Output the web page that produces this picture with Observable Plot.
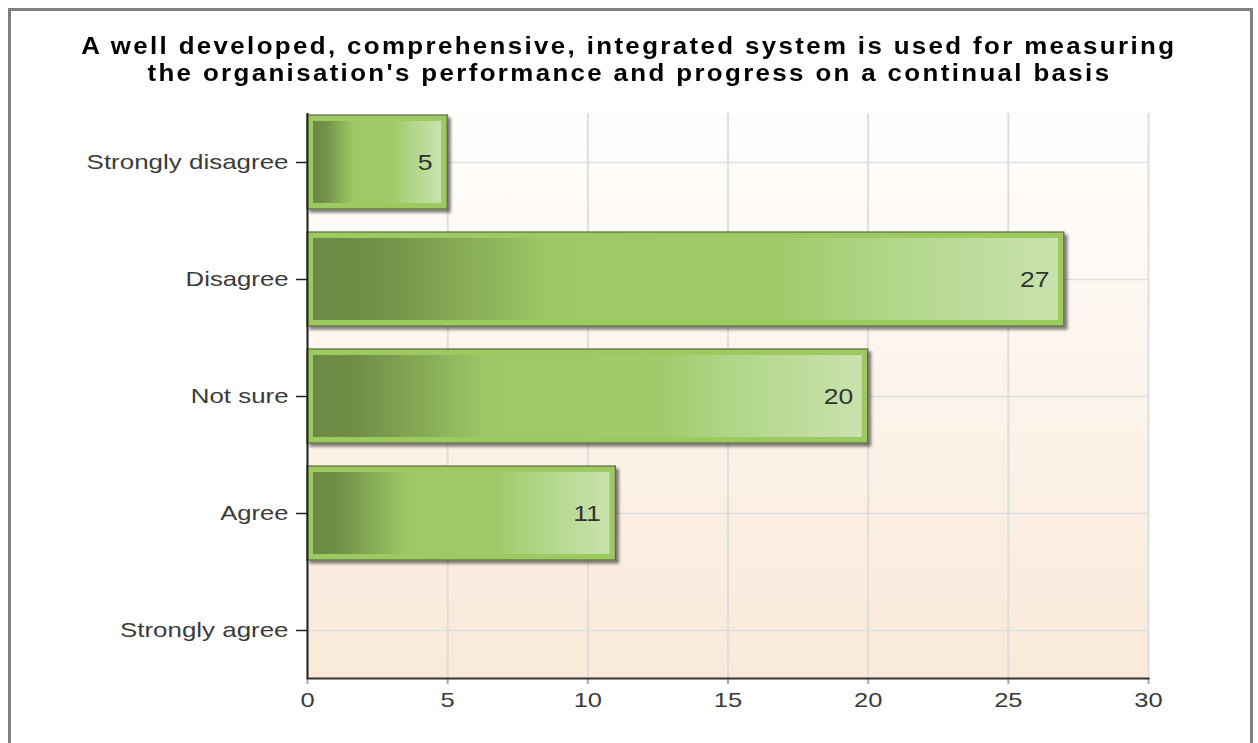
<!DOCTYPE html>
<html><head><meta charset="utf-8">
<script src="https://cdn.jsdelivr.net/npm/d3@7"></script>
<script src="https://cdn.jsdelivr.net/npm/@observablehq/plot@0.6"></script>
<style>
html,body{margin:0;padding:0;background:#fff;overflow:hidden;width:1258px;height:743px}
#wrap{position:relative;width:1258px;height:743px}
#border{position:absolute;left:8px;top:8px;width:1239px;height:800px;border:3px solid #808080;pointer-events:none}
#title{position:absolute;left:0;top:33px;width:1258px;text-align:center;font:bold 23px "Liberation Sans",Arial,sans-serif;line-height:27px;color:#000}
#title .ln{text-align:center;height:27px}
#title .ln span{display:inline-block;letter-spacing:2.1px;transform:scaleX(1.125);transform-origin:50% 50%;white-space:nowrap}
#chart{position:absolute;left:0;top:0}
</style></head><body>
<div id="wrap"><div id="chart"></div><div id="title"></div><div id="border"></div></div>
<script>
const titleLines = [
  "A well developed, comprehensive, integrated system is used for measuring",
  "the organisation's performance and progress on a continual basis"
];
const categories = ["Strongly disagree", "Disagree", "Not sure", "Agree", "Strongly agree"];
const counts = [5, 27, 20, 11, 0];
const xTicks = [0, 5, 10, 15, 20, 25, 30];

const data = categories.map((c, i) => ({category: c, value: counts[i]}));
const bars = data.filter(d => d.value > 0);

const titleEl = document.getElementById("title");
titleLines.forEach(t => {
  const ln = document.createElement("div");
  ln.className = "ln";
  const sp = document.createElement("span");
  sp.textContent = t;
  ln.appendChild(sp);
  titleEl.appendChild(ln);
});

const defsMark = () => {
  const ns = "http://www.w3.org/2000/svg";
  const defs = document.createElementNS(ns, "defs");
  defs.innerHTML = `
  <linearGradient id="bgGrad" x1="0" y1="0" x2="0" y2="1">
    <stop offset="0" stop-color="#fffefd"/><stop offset="1" stop-color="#f9e9d8"/>
  </linearGradient>
  <linearGradient id="barGrad" x1="0" y1="0" x2="1" y2="0">
    <stop offset="0" stop-color="#6b8a44"/>
    <stop offset="0.08" stop-color="#6f8f46"/>
    <stop offset="0.18" stop-color="#82a653"/>
    <stop offset="0.32" stop-color="#9ec866"/>
    <stop offset="0.62" stop-color="#9fca68"/>
    <stop offset="0.75" stop-color="#aed584"/>
    <stop offset="1" stop-color="#c9e2ae"/>
  </linearGradient>
  <filter id="shadow" x="-5%" y="-10%" width="115%" height="130%">
    <feDropShadow dx="3" dy="3" stdDeviation="1.6" flood-color="#000" flood-opacity="0.5"/>
  </filter>`;
  return defs;
};

const chart = Plot.plot({
  width: 1258,
  height: 743,
  marginLeft: 307,
  marginRight: 110,
  marginTop: 113,
  marginBottom: 65,
  style: {fontFamily: "'Liberation Sans', Arial, sans-serif", fontSize: "21px", color: "#3b3b3b", background: "transparent", overflow: "visible"},
  x: {domain: [0, 30]},
  y: {domain: categories, paddingInner: 0.2, paddingOuter: 0},
  marks: [
    defsMark,
    Plot.frame({fill: "url(#bgGrad)", stroke: null}),
    Plot.gridX(xTicks, {stroke: "#dedede", strokeOpacity: 1, strokeWidth: 2}),
    Plot.gridY({stroke: "#dedede", strokeOpacity: 1, strokeWidth: 1.5}),
    Plot.barX(bars, {x: "value", y: "category", fill: "#9dca60", stroke: "#5a6a40", strokeWidth: 1.2}),
    Plot.barX(bars, {x: "value", y: "category", fill: "url(#barGrad)", inset: 6}),
    Plot.text(bars, {x: "value", y: "category", text: d => String(d.value), textAnchor: "end", dx: -15, fontSize: 22, fill: "#333"}),
    Plot.axisX(xTicks, {label: null, tickSize: 6, tickPadding: 8, stroke: "#a8a8a8", strokeWidth: 2, fill: "#3b3b3b"}),
    Plot.axisY({label: null, tickSize: 11, tickPadding: 8, stroke: "#222", strokeWidth: 1.5, fill: "#3b3b3b"}),
    Plot.ruleX([0], {stroke: "#222", strokeWidth: 2}),
    Plot.frame({anchor: "bottom", stroke: "#333", strokeWidth: 2})
  ]
});

document.getElementById("chart").appendChild(chart);

const barGroups = chart.querySelectorAll('g[aria-label="bar"]');
if (barGroups.length) barGroups[0].setAttribute("filter", "url(#shadow)");

// widen glyph runs the way the original renderer did
chart.querySelectorAll("text").forEach(t => {
  const s = t.textContent;
  if (!s) return;
  const L = t.getComputedTextLength();
  if (!L) return;
  t.setAttribute("textLength", (L * 1.1 + s.length * 1.3).toFixed(1));
  t.setAttribute("lengthAdjust", "spacingAndGlyphs");
});
</script>
</body></html>
